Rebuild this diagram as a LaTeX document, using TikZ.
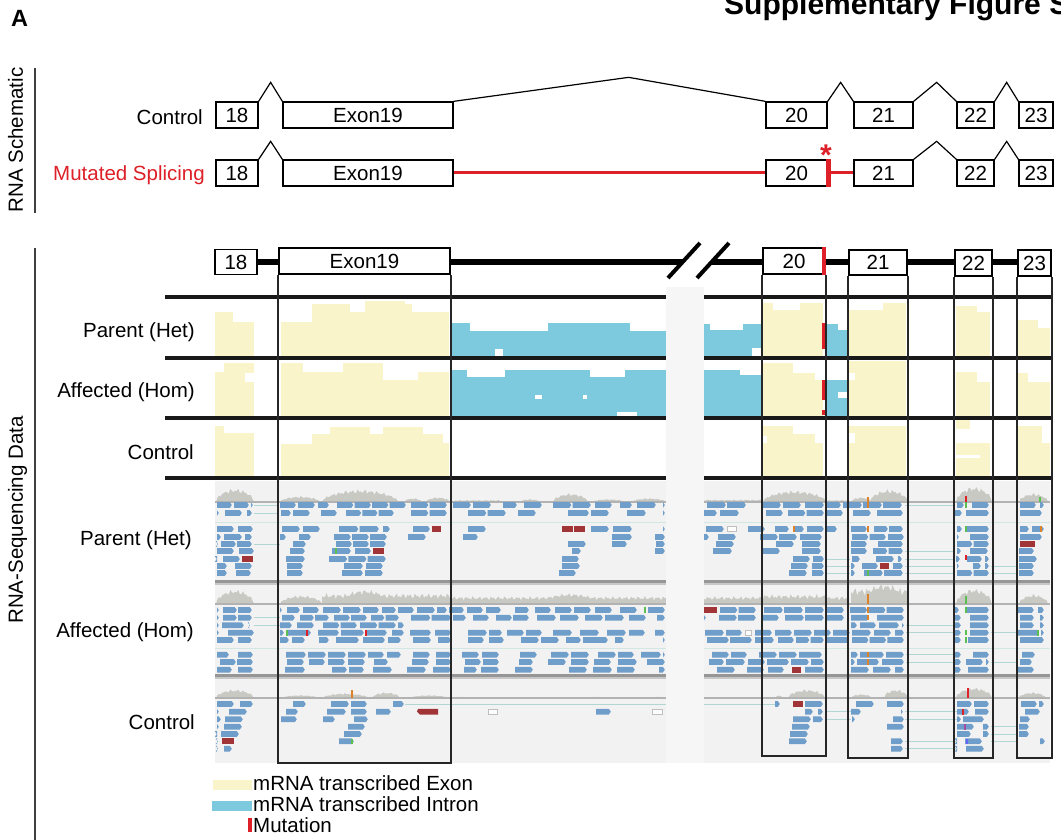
\documentclass[tikz,border=0pt]{standalone}
\usepackage{fontspec}
\setmainfont{Liberation Sans}
\definecolor{exony}{RGB}{250,244,202}
\definecolor{intronb}{RGB}{125,202,222}
\definecolor{readc}{RGB}{112,158,202}
\definecolor{redread}{RGB}{160,52,54}
\definecolor{igvbg}{RGB}{242,242,242}
\definecolor{gapc}{RGB}{246,246,246}
\definecolor{histc}{RGB}{201,201,196}
\definecolor{mutred}{RGB}{222,32,40}
\definecolor{tealc}{RGB}{178,214,210}
\definecolor{sepgray}{RGB}{150,150,150}
\definecolor{snpor}{RGB}{220,130,40}
\definecolor{snpgr}{RGB}{90,190,80}

% one aligned read: #1 start x, #2 end x, #3 centre y
\newcommand\readshape[3]{\fill[readc] (#1,#3-2.9) -- (#2-2,#3-2.9) -- (#2,#3) -- (#2-2,#3+2.9) -- (#1,#3+2.9) -- cycle;}
% a run of abutting reads between #1 and #2 on row #3
\newcommand\seg[3]{%
  \pgfmathtruncatemacro\nr{max(1,round((#2-#1)/19))}%
  \pgfmathsetmacro\wr{(#2-#1)/\nr}%
  \foreach \k in {1,...,\nr}{%
    \pgfmathsetmacro\xa{#1+(\k-1)*\wr}%
    \pgfmathsetmacro\xb{#1+\k*\wr-1.2}%
    \readshape{\xa}{\xb}{#3}}}
\newcommand\readrow[2]{\foreach \ra/\rb in {#2}{\seg{\ra}{\rb}{#1}}}
\newcommand\redrd[3]{\fill[redread] (#1,#3-2.9) rectangle (#2,#3+2.9);}
\newcommand\softrd[3]{\draw[black!25,fill=white!85!igvbg,line width=0.6pt] (#1,#3-2.75) rectangle (#2,#3+2.75);}
\newcommand\tl[3]{\draw[tealc,line width=0.8pt] (#1,#3) -- (#2,#3);}
\newcommand\snp[4]{\fill[#4] (#1-0.6,#2) rectangle (#1+0.6,#3);}
% coverage histogram: #1 baseline, #2..#3 x range, #4 height
\newcommand\hump[4]{%
  \pgfmathtruncatemacro\hs{max(4,(#3-#2)/1.5)}%
  \fill[histc] (#2,#1) -- plot[domain=#2:#3,samples=\hs] (\x,{#1-#4*sqrt(abs(sin(180/(#3-#2)*(\x-#2))))*(0.8+0.2*sin(97*mod(\x,37))*cos(41*mod(\x,53)))}) -- (#3,#1) -- cycle;}
\newcommand\flathist[4]{%
  \pgfmathtruncatemacro\hs{max(4,(#3-#2)/1.5)}%
  \fill[histc] (#2,#1) -- plot[domain=#2:#3,samples=\hs] (\x,{#1-#4*(0.72+0.28*sin(97*mod(\x,37))*cos(41*mod(\x,53)))}) -- (#3,#1) -- cycle;}

\begin{document}
\begin{tikzpicture}[x=1pt,y=-1pt,
  lab/.style={font=\fontsize{20.5pt}{24pt}\selectfont},
  exbox/.style={draw=black,line width=1.3pt,fill=white,inner sep=0pt,minimum height=26pt,lab},
  gbox/.style={draw=black,line width=1.6pt,fill=white,inner sep=0pt,minimum height=25pt,lab},
  junc/.style={line width=1.2pt,black},
  mutline/.style={line width=3pt,mutred},
  sepline/.style={line width=3.5pt,black!90},
  outl/.style={line width=2pt,black!85},
  track/.style={line width=5.5pt,black},
  rowlab/.style={lab,anchor=base east,inner sep=0pt},
  sidelab/.style={lab,rotate=90,anchor=base,inner sep=0pt}]
\path[use as bounding box,clip] (0,0) rectangle (1061,840);
\fill[white] (0,0) rectangle (1061,840);

% ---------- headings ----------
\node[anchor=base west,inner sep=0pt,font=\fontsize{23.5pt}{26pt}\selectfont\bfseries] (panelA) at (11,27) {A};
\node[anchor=base west,inner sep=0pt,font=\fontsize{30pt}{32pt}\selectfont\bfseries] (title) at (724,15) {Supplementary Figure S};

% ---------- RNA schematic ----------
\draw[line width=1.5pt,black!75] (35,68) -- (35,213);
\node[sidelab] (schemlab) at (23,140) {RNA Schematic};
\node[rowlab] (ctrlS) at (203,124.5) {Control};
\node[rowlab,text=mutred] (mutS) at (205,181) {Mutated Splicing};

\node[exbox,minimum width=42pt] (c18) at (237,115) {18};
\node[exbox,minimum width=170pt] (c19) at (368,115) {Exon19};
\node[exbox,minimum width=61pt] (c20) at (796.5,115) {20};
\node[exbox,minimum width=59pt] (c21) at (883.5,115) {21};
\node[exbox,minimum width=37pt] (c22) at (975.5,115) {22};
\node[exbox,minimum width=34pt] (c23) at (1036,115) {23};
\draw[junc] (c18.north east) -- ++(12,-19) -- (c19.north west);
\draw[junc] (c19.north east) -- ++(175,-24) -- (c20.north west);
\draw[junc] (c20.north east) -- ++(13,-19) -- (c21.north west);
\draw[junc] (c21.north east) -- ++(23,-19) -- (c22.north west);
\draw[junc] (c22.north east) -- ++(12,-19) -- (c23.north west);

\node[exbox,minimum width=42pt] (m18) at (237,173) {18};
\node[exbox,minimum width=170pt] (m19) at (368,173) {Exon19};
\node[exbox,minimum width=61pt] (m20) at (796.5,173) {20};
\node[exbox,minimum width=59pt] (m21) at (883.5,173) {21};
\node[exbox,minimum width=37pt] (m22) at (975.5,173) {22};
\node[exbox,minimum width=34pt] (m23) at (1036,173) {23};
\draw[junc] (m18.north east) -- ++(12,-18) -- (m19.north west);
\draw[mutline] (m19.east) -- (m20.west);
\draw[mutline] (m20.east) -- (m21.west);
\draw[mutred,line width=4.5pt] ([xshift=1pt]m20.north east) -- ([xshift=1pt]m20.south east);
\draw[junc] (m21.north east) -- ++(23,-18) -- (m22.north west);
\draw[junc] (m22.north east) -- ++(12,-18) -- (m23.north west);
\node[inner sep=0pt,text=mutred,font=\fontsize{30pt}{30pt}\selectfont\bfseries] (star) at (826,155) {*};

% ---------- coverage tracks ----------
\begin{scope}[fill=exony]
% Parent (Het)
\fill (215,312) rectangle (233,356); \fill (233,322) rectangle (254,356);
\fill (281,322) rectangle (312,356); \fill (312,304) rectangle (350,356); \fill (350,312) rectangle (365,356);
\fill (365,301) rectangle (405,356); \fill (405,304) rectangle (412,356); \fill (412,312) rectangle (449,356);
\fill (763,303) rectangle (773,356); \fill (773,310) rectangle (800,356); \fill (800,303) rectangle (823,356);
\fill (849,310) rectangle (883,356); \fill (883,303) rectangle (906,356);
\fill (956,306) rectangle (977,356); \fill (977,312) rectangle (990,356);
\fill (1018,320) rectangle (1038,356); \fill (1038,328) rectangle (1050,356);
% Affected (Hom)
\fill (215,372) rectangle (224,416); \fill (224,363) rectangle (254,416);
\fill (281,363) rectangle (303,416); \fill (303,372) rectangle (343,416); \fill (343,363) rectangle (383,416);
\fill (383,380) rectangle (418,416); \fill (418,372) rectangle (449,416);
\fill (763,363) rectangle (793,416); \fill (793,373) rectangle (815,416); \fill (815,380) rectangle (823,416);
\fill (849,361) rectangle (906,416);
\fill (956,372) rectangle (977,416); \fill (977,382) rectangle (990,416);
\fill (1018,373) rectangle (1028,416); \fill (1028,382) rectangle (1050,416);
% Control
\fill (215,426) rectangle (224,476); \fill (224,433) rectangle (254,476);
\fill (281,444) rectangle (312,476); \fill (312,434) rectangle (330,476); \fill (330,427) rectangle (370,476);
\fill (370,434) rectangle (383,476); \fill (383,427) rectangle (423,476); \fill (423,434) rectangle (443,476);
\fill (443,443) rectangle (449,476);
\fill (763,426) rectangle (793,476); \fill (793,434) rectangle (815,476); \fill (815,443) rectangle (823,476);
\fill (849,426) rectangle (906,476);
\fill (956,420) rectangle (970,429); \fill (956,443) rectangle (990,476);
\fill (1018,426) rectangle (1042,476); \fill (1042,443) rectangle (1050,476);
\end{scope}
\begin{scope}[fill=intronb]
\fill (451,323) rectangle (470,356); \fill (470,331) rectangle (548,356); \fill (548,323) rectangle (630,356);
\fill (630,331) rectangle (666,356); \fill (704,324) rectangle (710,356); \fill (710,330) rectangle (743,356);
\fill (743,324) rectangle (763,356); \fill (826,324) rectangle (838,356); \fill (838,330) rectangle (848,356);
\fill (451,370) rectangle (467,416); \fill (467,377) rectangle (505,416); \fill (505,370) rectangle (590,416);
\fill (590,377) rectangle (625,416); \fill (625,370) rectangle (666,416); \fill (704,370) rectangle (740,416);
\fill (740,375) rectangle (763,416); \fill (826,380) rectangle (848,416);
\end{scope}
\begin{scope}[fill=white]
\fill (495,349) rectangle (503,356); \fill (752,348) rectangle (763,356);
\fill (245,373) rectangle (254,382); \fill (849,373) rectangle (855,380);
\fill (535,395) rectangle (542,399); \fill (583,395) rectangle (587,399); \fill (617,412) rectangle (637,416);
\fill (838,392) rectangle (848,398);
\fill (763,436) rectangle (767,443); \fill (849,433) rectangle (855,443); \fill (956,455) rectangle (980,458);
\fill (773,303) rectangle (800,306);
\end{scope}
\fill[mutred] (821.5,323) rectangle (825,349);
\fill[mutred] (821.5,380) rectangle (825,400);
\fill[mutred] (821.5,410) rectangle (825,415);

% ---------- aligned reads ----------
\fill[igvbg] (215,481) rectangle (1050,763);
% coverage histograms
\hump{502}{216}{254}{14}
\hump{502}{280}{320}{6} \hump{502}{322}{398}{13} \hump{502}{404}{422}{4} \hump{502}{426}{450}{5}
\flathist{502}{455}{500}{2} \hump{502}{520}{540}{3} \hump{502}{553}{588}{9} \hump{502}{592}{625}{3} \hump{502}{632}{666}{4}
\flathist{502}{704}{763}{2.5} \hump{502}{763}{826}{12} \flathist{502}{826}{849}{2}
\hump{502}{851}{872}{5} \hump{502}{870}{908}{13} \hump{502}{956}{992}{16} \hump{502}{1019}{1048}{9}
\hump{604}{216}{254}{15}
\hump{604}{280}{322}{9} \flathist{604}{322}{450}{11} \hump{604}{340}{390}{15}
\flathist{604}{450}{666}{8} \hump{604}{540}{600}{11}
\flathist{604}{704}{763}{8} \flathist{604}{763}{826}{10} \flathist{604}{826}{849}{8}
\flathist{604}{851}{908}{17} \hump{604}{860}{908}{21} \hump{604}{956}{992}{16} \hump{604}{1019}{1048}{10}
\hump{698}{216}{254}{9}
\hump{698}{282}{318}{3} \hump{698}{323}{368}{5} \hump{698}{372}{400}{6} \hump{698}{410}{448}{3}
\flathist{698}{460}{470}{1.2} \flathist{698}{590}{605}{1.2} \flathist{698}{652}{662}{1.2}
\hump{698}{775}{783}{3} \hump{698}{788}{825}{9} \hump{698}{851}{872}{4} \hump{698}{884}{908}{9}
\hump{698}{956}{992}{11} \hump{698}{1019}{1046}{6}
% histogram baselines and panel guides
\foreach \yb in {502,604,698} \draw[black!30,line width=1.2pt] (215,\yb) -- (1050,\yb);
\foreach \yb in {522,648} \draw[tealc!60,line width=1pt] (215,\yb) -- (1050,\yb);

% Parent (Het)
\readrow{505}{217/233,234/250,251/254,280/297,298/316,318/330,337/407,411/448,453/472,473/492,503/518,524/543,553/592,595/613,620/633,637/657,663/666,707/747,763/782,783/802,805/825,827/842,843/903,957/965,972/990,1020/1037,1040/1045}
\readrow{513}{217/220,225/243,247/253,281/292,293/311,321/338,346/395,411/448,468/507,518/537,568/590,591/610,627/647,663/666,704/718,720/740,766/784,788/825,827/844,853/872,877/904,955/963,966/990,1020/1043}
\readrow{529}{217/235,238/254,282/301,303/321,339/380,383/391,413/431,468/487,591/610,613/633,663/666,706/725,748/766,775/790,793/805,807/825,827/838,851/868,874/904,957/963,967/990,1020/1030,1032/1045}
\readrow{537}{217/222,224/243,245/253,280/287,299/312,334/388,408/427,463/479,612/633,655/666,704/710,718/737,760/798,800/823,852/887,888/905,957/960,970/990,1020/1043}
\readrow{544}{217/219,221/253,293/307,336/387,568/587,612/628,656/666,716/735,776/795,802/822,851/868,878/904,957/990}
\readrow{551}{217/235,239/255,290/306,332/352,355/372,572/582,655/666,713/733,762/781,802/822,851/868,873/904,957/962,970/989,1019/1035}
\readrow{559}{217/218,223/241,286/306,329/387,562/580,793/811,813/825,852/861,876/895,898/903,956/961,967/983,985/990,1019/1038}
\readrow{566}{217/228,235/253,287/304,344/364,366/384,562/581,791/809,812/825,851/856,862/879,893/904,957/960,973/982,985/990,1019/1035}
\readrow{573}{217/228,236/252,287/304,342/364,365/384,559/577,789/808,812/825,851/856,864/904,957/990,1019/1035}
\redrd{432}{441}{529} \redrd{562}{573}{529} \redrd{574}{585}{529} \redrd{1020}{1035}{544}
\redrd{373}{384}{551} \redrd{242}{253}{559} \redrd{880}{889}{566}
\softrd{727}{736}{529}
\tl{254}{279}{505} \tl{254}{279}{513} \tl{254}{280}{544}
\foreach \yr in {505,551,559,566,573} \tl{905}{955}{\yr};
\foreach \yr in {559,566,573} \tl{826}{850}{\yr};
\foreach \yr in {566,573} \tl{991}{1018}{\yr};

% Affected (Hom)
\readrow{610}{217/220,223/253,280/283,287/301,303/320,323/342,343/362,363/380,382/397,398/415,417/436,437/448,449/465,467/484,486/502,515/530,535/552,555/573,574/592,595/613,620/638,648/666,720/757,764/804,805/825,826/845,850/905,955/960,967/990,1018/1035,1038/1045}
\readrow{617.7}{217/220,223/253,282/296,300/330,334/368,371/400,411/452,453/467,473/490,496/530,537/557,560/580,585/604,605/625,629/647,657/666,704/707,719/757,763/780,785/825,826/845,851/870,877/905,955/962,970/990,1020/1035,1040/1045}
\readrow{625.3}{217/220,222/245,249/251,280/293,297/315,323/358,360/397,398/405,851/858,860/877,879/900,902/905,955/962,970/990,1020/1035,1040/1045}
\readrow{632.7}{217/220,228/255,280/285,287/312,318/340,341/365,367/388,392/405,410/432,435/452,468/488,489/503,507/525,526/543,553/573,580/600,607/627,629/646,655/666,705/725,726/743,755/773,775/793,794/813,814/832,833/851,852/872,874/892,895/905,955/962,970/990,1018/1040,1041/1045}
\readrow{640}{217/235,238/253,280/290,292/306,319/330,336/360,363/386,388/402,413/432,438/452,468/485,489/505,521/540,541/560,566/582,583/609,615/625,663/666,707/753,755/775,778/795,796/825,827/850,852/905,955/962,968/990,1020/1045}
\readrow{654.7}{217/230,238/254,286/307,308/327,328/347,348/367,368/385,387/402,413/431,436/452,462/480,482/500,520/538,551/570,571/590,598/617,618/635,641/662,663/666,712/730,731/748,759/778,779/798,799/823,851/859,860/885,886/905,955/962,973/990,1022/1036}
\readrow{662}{220/254,287/305,309/326,328/346,348/366,374/389,412/430,436/452,465/482,483/500,519/534,548/567,571/590,594/612,618/638,647/666,709/725,726/746,748/766,767/790,791/810,811/825,851/856,857/880,882/905,955/962,966/984,986/990,1020/1033}
\readrow{669.7}{217/233,238/254,285/306,332/348,349/365,373/393,407/427,433/452,464/478,481/500,515/534,569/588,593/613,617/636,659/666,717/736,747/765,768/785,805/825,851/870,873/892,895/905,955/962,968/990,1018/1035}
\redrd{704}{717}{610} \redrd{792}{801}{669.7}
\softrd{745}{751}{632.7}
\tl{254}{280}{617.7} \tl{254}{280}{625.3}
\foreach \yr in {625.3,632.7,654.7,662} \tl{906}{955}{\yr};
\foreach \yr in {632.7,662} \tl{991}{1018}{\yr};

% Control
\tl{405}{666}{704} \tl{704}{775}{704}
\readrow{704}{217/235,240/254,293/307,331/350,351/368,393/405,775/781,805/824,856/875,887/905,957/973,974/990,1021/1038,1039/1045}
\readrow{711.7}{217/220,229/248,286/299,327/347,351/368,376/392,596/612,805/814,818/824,851/862,901/904,957/970,975/990,1025/1041}
\readrow{719.3}{217/222,225/244,281/298,323/336,354/369,793/812,813/824,852/856,893/905,957/962,963/985,1020/1031}
\readrow{726.7}{217/220,224/243,348/366,792/811,887/905,957/975,983/990,1019/1030}
\readrow{734}{217/218,221/240,344/363,790/809,957/972,983/990,1019/1030}
\readrow{741.3}{217/219,339/355,789/808,891/904,957/958,965/983,1040/1046}
\readrow{748.7}{217/219,224/233,891/904,957/958,966/985}
\redrd{793}{803}{704} \redrd{222}{234}{741.3}
\fill[redread] (418,711.7-2.9) -- (438,711.7-2.9) -- (438,711.7+2.9) -- (420,711.7+2.9) -- (417,711.7) -- cycle;
\softrd{488}{497}{711.7} \softrd{652}{662}{711.7}
\foreach \yr in {711.7,719.3} \tl{825}{851}{\yr};
\foreach \yr in {711.7,719.3,741.3,748.7} \tl{905}{957}{\yr};
\foreach \yr in {726.7,734,741.3} \tl{991}{1018}{\yr};

% mismatch ticks
\snp{868}{497}{502}{snpor} \snp{966}{496}{502}{mutred} \snp{1040}{497}{502}{snpgr}
\foreach \yr in {505,529} {\snp{868}{\yr-2.75}{\yr+2.75}{snpor} \snp{966}{\yr-2.75}{\yr+2.75}{snpgr}}
\snp{794}{526.25}{531.75}{snpor} \snp{1041}{526.25}{531.75}{snpor}
\snp{336}{548.25}{553.75}{snpgr} \snp{966}{554.5}{560}{mutred} \snp{868}{570.25}{575.75}{snpgr}
\snp{868}{594}{604}{snpor} \snp{966}{596}{604}{snpgr}
\foreach \yr in {610,617.7,654.7,662} \snp{868}{\yr-2.75}{\yr+2.75}{snpor};
\foreach \yr in {610,632.7,640} \snp{966}{\yr-2.75}{\yr+2.75}{snpgr};
\snp{287}{630}{635.5}{snpgr} \snp{307}{630}{635.5}{mutred} \snp{366}{630}{635.5}{mutred}
\snp{1038}{630}{635.5}{snpgr} \snp{645}{607.25}{612.75}{snpgr}
\snp{352}{690}{698}{snpor} \snp{968}{688}{698}{mutred}
\snp{963}{709}{714.5}{mutred} \snp{965}{724}{729.5}{violet!70} \snp{967}{738.5}{744}{blue!60}
\snp{352}{738.5}{744}{snpgr}

% panel separators
\foreach \yb in {582,676} {\fill[sepgray] (215,\yb-2) rectangle (1050,\yb+1.2); \fill[black!22] (215,\yb+1.2) rectangle (1050,\yb+2.5);}

% ---------- coverage separators and genome break ----------
\foreach \yb in {297,358,418,478} \draw[sepline] (165,\yb) -- (1053,\yb);
\fill[gapc] (666,287) rectangle (704,763);

% ---------- gene model ----------
\node[gbox,minimum width=42pt] (g18) at (236,262) {18};
\node[gbox,minimum width=171pt,minimum height=26pt] (g19) at (364.5,261) {Exon19};
\node[gbox,minimum width=62pt,minimum height=26pt] (g20) at (794,261) {20};
\node[gbox,minimum width=58pt] (g21) at (878,262.5) {21};
\node[gbox,minimum width=37pt,minimum height=26pt] (g22) at (973.5,263) {22};
\node[gbox,minimum width=33pt,minimum height=26pt] (g23) at (1034.5,263) {23};
\coordinate (brkA) at (683,262);
\coordinate (brkB) at (712,262);
\draw[track] (g18.east) -- (g19.west |- g18.east);
\draw[track] (g19.east |- brkA) -- (brkA);
\draw[track] (brkB) -- (g20.west |- brkB);
\draw[track] (g20.east |- brkB) -- (g21.west |- brkB);
\draw[track] (g21.east |- brkB) -- (g22.west |- brkB);
\draw[track] (g22.east |- brkB) -- (g23.west |- brkB);
\draw[line width=4pt,black] (brkA) ++(-15,16) -- ++(32,-35);
\draw[line width=4pt,black] (brkB) ++(-15,16) -- ++(32,-35);
\draw[mutred,line width=3.5pt] ([xshift=-1.6pt]g20.north east) -- ([xshift=-1.6pt]g20.south east);

\draw[outl] (g19.south west) -- ++(0,488) -| (g19.south east);
\draw[outl] (g20.south west) -- ++(0,481) -| (g20.south east);
\draw[outl] (g21.south west) -- ++(0,482) -| (g21.south east);
\draw[outl] (g22.south west) -- ++(0,481) -| (g22.south east);
\draw[outl] (g23.south west) -- ++(0,481) -| (g23.south east);

% ---------- labels ----------
\draw[line width=1.5pt,black!75] (35,248) -- (35,840);
\node[sidelab] (seqlab) at (23,520) {RNA-Sequencing Data};
\node[rowlab] (covP) at (195,337) {Parent (Het)};
\node[rowlab] (covA) at (195,397) {Affected (Hom)};
\node[rowlab] (covC) at (194,459) {Control};
\node[rowlab] (rdP) at (192,545) {Parent (Het)};
\node[rowlab] (rdA) at (194,637) {Affected (Hom)};
\node[rowlab] (rdC) at (195,729) {Control};

% ---------- legend ----------
\fill[exony] (213,780) rectangle (252,790);
\node[lab,anchor=base west,inner sep=0pt] (legE) at (253,790) {mRNA transcribed Exon};
\fill[intronb] (212,801) rectangle (252,811);
\node[lab,anchor=base west,inner sep=0pt] (legI) at (253,811) {mRNA transcribed Intron};
\fill[mutred] (248,818) rectangle (252,832);
\node[lab,anchor=base west,inner sep=0pt] (legM) at (253,832) {Mutation};
\end{tikzpicture}
\end{document}
